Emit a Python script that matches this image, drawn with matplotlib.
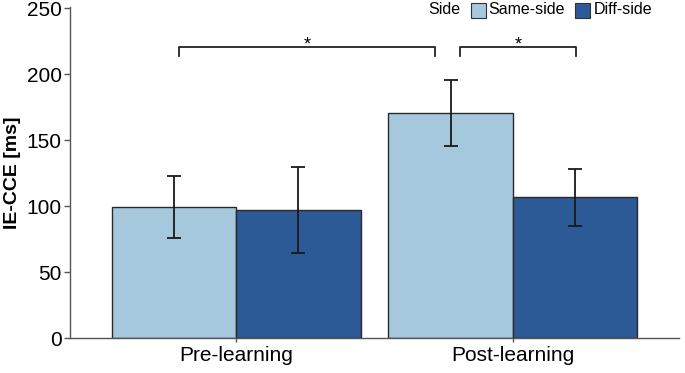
import matplotlib
matplotlib.use("Agg")
import matplotlib.pyplot as plt
import numpy as np
from matplotlib.patches import Rectangle

plt.rcParams['font.family'] = ['Liberation Sans', 'DejaVu Sans']

categories = ["Pre-learning", "Post-learning"]
sides = ["Same-side", "Diff-side"]
same_vals = [99.5, 170.5]
same_err = [23.5, 25.0]
diff_vals = [97.0, 106.5]
diff_err = [32.5, 21.7]
colors = ["#a6c8dc", "#2c5a96"]
yticks = [0, 50, 100, 150, 200, 250]

fig = plt.figure(figsize=(6.85, 3.73), dpi=100)
ax = fig.add_axes([70/685, 35/373, 609/685, 331.3/373])

x = np.arange(1, len(categories) + 1)
w = 0.45
edge = "#2a2a2a"
ekw = dict(ecolor="#1a1a1a", elinewidth=1.3, capsize=5, capthick=1.3)
ax.bar(x - w/2, same_vals, width=w, color=colors[0], edgecolor=edge, linewidth=1.0,
       yerr=same_err, error_kw=ekw)
ax.bar(x + w/2, diff_vals, width=w, color=colors[1], edgecolor=edge, linewidth=1.0,
       yerr=diff_err, error_kw=ekw)

ax.set_xlim(0.4, 2.6)
ax.set_ylim(0, 251)
ax.set_xticks(x)
ax.set_xticklabels(categories, fontsize=15)
ax.set_yticks(yticks)
ax.set_yticklabels([str(t) for t in yticks], fontsize=15)
ax.set_ylabel("IE-CCE [ms]", fontsize=14, fontweight="bold", labelpad=4)

for s in ["top", "right"]:
    ax.spines[s].set_visible(False)
for s in ["left", "bottom"]:
    ax.spines[s].set_color("#555555")
    ax.spines[s].set_linewidth(1.0)
ax.tick_params(axis="both", colors="#555555", length=4, width=1.0, labelcolor="black", pad=2)
ax.tick_params(axis="x", length=3, pad=3)

# significance brackets
def bracket(x0, x1, y, yd, text):
    ax.plot([x0, x0, x1, x1], [yd, y, y, yd], color="#222222", lw=1.3, clip_on=False)
    ax.text((x0 + x1) / 2, y - 2.0, text, ha="center", va="baseline", fontsize=13)

bracket(0.793, 1.718, 220.5, 213.6, "*")
bracket(1.81, 2.227, 220.5, 213.6, "*")

# legend at top
fig.text(428/685, 1 - 10/373, "Side", fontsize=11.5, va="center", ha="left")
fig.patches.append(Rectangle((471/685, 1 - 18/373), 15/685, 15/373, transform=fig.transFigure,
                             facecolor=colors[0], edgecolor="#333333", lw=0.8))
fig.text(488/685, 1 - 10/373, sides[0], fontsize=11.5, va="center", ha="left")
fig.patches.append(Rectangle((575/685, 1 - 18/373), 15/685, 15/373, transform=fig.transFigure,
                             facecolor=colors[1], edgecolor="#333333", lw=0.8))
fig.text(594/685, 1 - 10/373, sides[1], fontsize=11.5, va="center", ha="left")

fig.savefig("out.png", dpi=100)
